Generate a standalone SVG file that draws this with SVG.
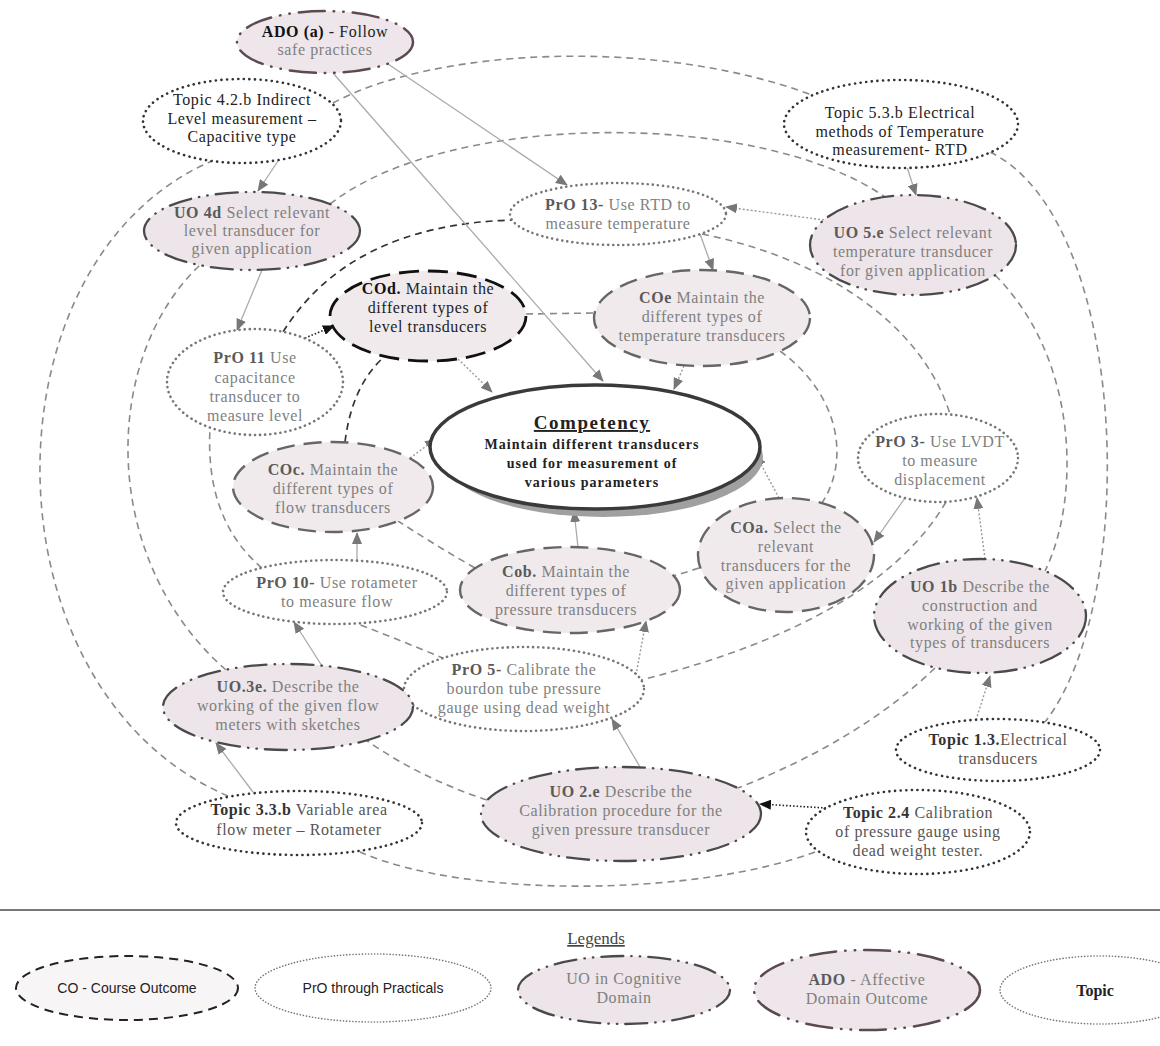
<svg xmlns="http://www.w3.org/2000/svg" width="1160" height="1046" viewBox="0 0 1160 1046">
<defs>
<style>
.t{font-family:"Liberation Serif","Times New Roman",serif;font-size:16px;fill:#808080;text-anchor:middle;letter-spacing:0.6px}
.b{font-weight:bold;fill:#5a5a5a}
.dk{fill:#222}
.dk .b{fill:#111}
.tp2{fill:#555}
.tp2 .b{fill:#333}
.co{fill:#f0eaed;stroke:#666;stroke-width:2.4;stroke-dasharray:18 9}
.cod{fill:#f0eaed;stroke:#111;stroke-width:2.8;stroke-dasharray:20 9}
.uo{fill:#ede5e9;stroke:#4a4a4a;stroke-width:2.3;stroke-dasharray:22 8 0.5 8 0.5 8;stroke-linecap:round}
.ado{fill:#eee6ea;stroke:#5b4a52;stroke-width:2.5;stroke-dasharray:26 9 0.5 9 0.5 9;stroke-linecap:round}
.pro{fill:#fff;stroke:#777;stroke-width:2.6;stroke-dasharray:0.1 5;stroke-linecap:round}
.tp{fill:#fff;stroke:#333;stroke-width:2.6;stroke-dasharray:0.1 5.5;stroke-linecap:round}
.ar{fill:none;stroke:#aaa;stroke-width:1.3}
.ard{fill:none;stroke:#999;stroke-width:1.4;stroke-dasharray:2 2}
.ark{fill:none;stroke:#222;stroke-width:1.6;stroke-dasharray:1.5 2}
.lp{fill:none;stroke:#8a8a8a;stroke-width:1.6;stroke-dasharray:7 5}
.lpk{fill:none;stroke:#333;stroke-width:1.7;stroke-dasharray:7 5}
.sans{font-family:"Liberation Sans",Arial,sans-serif;font-size:14px;fill:#222;text-anchor:middle}
.cp{font-family:"Liberation Serif","Times New Roman",serif;font-size:14px;font-weight:bold;letter-spacing:1px;fill:#222;text-anchor:middle}
.cpt{font-family:"Liberation Serif","Times New Roman",serif;font-size:19px;font-weight:bold;letter-spacing:1.5px;fill:#222;text-anchor:middle;text-decoration:underline}
</style>
<marker id="ah" viewBox="0 0 12 10" refX="11" refY="5" markerWidth="12" markerHeight="10" markerUnits="userSpaceOnUse" orient="auto"><path d="M0,0 L12,5 L0,10 z" fill="#777"/></marker>
<marker id="ahk" viewBox="0 0 12 10" refX="11" refY="5" markerWidth="12" markerHeight="10" markerUnits="userSpaceOnUse" orient="auto"><path d="M0,0 L12,5 L0,10 z" fill="#111"/></marker>
</defs>
<rect x="0" y="0" width="1160" height="1046" fill="#fff"/>

<g id="connectors">
<!-- Topic loop -->
<path class="lp" d="M333,103 C430,50 650,35 812,95"/>
<path class="lp" d="M990,152 C1130,220 1140,600 1045,722"/>
<path class="lp" d="M815,852 C700,895 470,900 360,852"/>
<path class="lp" d="M228,796 C-20,690 -20,260 212,161"/>
<!-- UO loop -->
<path class="lp" d="M330,204 C450,110 760,110 885,197"/>
<path class="lp" d="M995,275 C1080,360 1080,500 1045,571"/>
<path class="lp" d="M935,668 Q860,740 738,788"/>
<path class="lp" d="M487,800 Q420,778 366,740"/>
<path class="lp" d="M226,670 C100,560 100,360 200,265"/>
<!-- PrO loop -->
<path class="lpk" d="M283,332 Q350,225 512,220"/>
<path class="lp" d="M702,234 C820,258 920,320 950,414"/>
<path class="lp" d="M946,502 C900,580 800,640 641,680"/>
<path class="lp" d="M445,659 Q400,640 355,623"/>
<path class="lp" d="M262,568 Q205,520 210,428"/>
<!-- CO loop -->
<path class="lp" d="M526,314 L595,313"/>
<path class="lp" d="M780,351 C840,395 850,460 822,503"/>
<path class="lp" d="M699,568 L674,576"/>
<path class="lp" d="M475,568 Q435,545 398,521"/>
<path class="lpk" d="M345,442 Q352,385 385,356"/>
<!-- arrows -->
<path class="ar" d="M333,73 L603,381" marker-end="url(#ah)"/>
<path class="ar" d="M388,64 L567,185" marker-end="url(#ah)"/>
<path class="ar" d="M278,161 L258,191" marker-end="url(#ah)"/>
<path class="ar" d="M907,167 L916,195" marker-end="url(#ah)"/>
<path class="ard" d="M824,220 L726,207" marker-end="url(#ah)"/>
<path class="ar" d="M700,234 L713,270" marker-end="url(#ah)"/>
<path class="ar" d="M262,270 L237,330" marker-end="url(#ah)"/>
<path class="ark" d="M305,338 L334,326" marker-end="url(#ahk)"/>
<path class="ard" d="M458,359 L492,392" marker-end="url(#ah)"/>
<path class="ard" d="M684,366 L674,389" marker-end="url(#ah)"/>
<path class="ard" d="M410,458 L436,439" marker-end="url(#ah)"/>
<path class="ard" d="M779,498 L756,455" marker-end="url(#ah)"/>
<path class="ar" d="M578,547 L574,511" marker-end="url(#ah)"/>
<path class="ar" d="M905,498 L874,542" marker-end="url(#ah)"/>
<path class="ard" d="M985,559 L977,498" marker-end="url(#ah)"/>
<path class="ard" d="M976,720 L990,676" marker-end="url(#ah)"/>
<path class="ark" d="M826,808 L760,804" marker-end="url(#ahk)"/>
<path class="ar" d="M640,767 L612,719" marker-end="url(#ah)"/>
<path class="ard" d="M636,675 L646,621" marker-end="url(#ah)"/>
<path class="ar" d="M357,560 L357,533" marker-end="url(#ah)"/>
<path class="ar" d="M322,666 L294,622" marker-end="url(#ah)"/>
<path class="ar" d="M253,792 L216,743" marker-end="url(#ah)"/>
</g>

<g id="n-ado">
<ellipse class="ado" cx="325" cy="42" rx="88" ry="31"/>
<text class="t dk" x="325" y="37"><tspan class="b">ADO (a)</tspan> - Follow</text>
<text class="t" x="325" y="55" fill="#888">safe practices</text>
</g>
<g id="n-topic42b">
<ellipse class="tp" cx="242" cy="121" rx="99" ry="42"/>
<text class="t dk" x="242" y="105">Topic 4.2.b Indirect</text>
<text class="t dk" x="242" y="124">Level measurement –</text>
<text class="t dk" x="242" y="142">Capacitive type</text>
</g>
<g id="n-topic53b">
<ellipse class="tp" cx="901" cy="124" rx="117" ry="44"/>
<text class="t dk" x="900" y="118">Topic 5.3.b Electrical</text>
<text class="t dk" x="900" y="137">methods of Temperature</text>
<text class="t dk" x="900" y="155">measurement- RTD</text>
</g>
<g id="n-uo4d">
<ellipse class="uo" cx="252" cy="231" rx="108" ry="39"/>
<text class="t" x="252" y="218"><tspan class="b">UO 4d</tspan> Select relevant</text>
<text class="t" x="252" y="236">level transducer for</text>
<text class="t" x="252" y="254">given application</text>
</g>
<g id="n-pro13">
<ellipse class="pro" cx="618" cy="214" rx="108" ry="31"/>
<text class="t" x="618" y="210"><tspan class="b">PrO 13-</tspan> Use RTD to</text>
<text class="t" x="618" y="229">measure temperature</text>
</g>
<g id="n-uo5e">
<ellipse class="uo" cx="913" cy="245" rx="103" ry="50"/>
<text class="t" x="913" y="238"><tspan class="b">UO 5.e</tspan> Select relevant</text>
<text class="t" x="913" y="257">temperature transducer</text>
<text class="t" x="913" y="276">for given application</text>
</g>
<g id="n-cod">
<ellipse class="cod" cx="428" cy="316" rx="98" ry="45"/>
<text class="t dk" x="428" y="294"><tspan class="b">COd.</tspan> Maintain the</text>
<text class="t dk" x="428" y="313">different types of</text>
<text class="t dk" x="428" y="332">level transducers</text>
</g>
<g id="n-coe">
<ellipse class="co" cx="702" cy="318" rx="108" ry="48"/>
<text class="t" x="702" y="303"><tspan class="b">COe</tspan> Maintain the</text>
<text class="t" x="702" y="322">different types of</text>
<text class="t" x="702" y="341">temperature transducers</text>
</g>
<g id="n-pro11">
<ellipse class="pro" cx="255" cy="382" rx="88" ry="53"/>
<text class="t" x="255" y="363"><tspan class="b">PrO 11</tspan> Use</text>
<text class="t" x="255" y="383">capacitance</text>
<text class="t" x="255" y="402">transducer to</text>
<text class="t" x="255" y="421">measure level</text>
</g>
<g id="n-competency">
<ellipse cx="603" cy="457" rx="160" ry="60" fill="#a0a0a0"/>
<ellipse cx="595" cy="447" rx="165" ry="62" fill="#fff" stroke="#3a3a3a" stroke-width="3.5"/>
<text class="cpt" x="592" y="429">Competency</text>
<text class="cp" x="592" y="449">Maintain different transducers</text>
<text class="cp" x="592" y="468">used for measurement of</text>
<text class="cp" x="592" y="487">various parameters</text>
</g>
<g id="n-pro3">
<ellipse class="pro" cx="938" cy="458" rx="80" ry="44"/>
<text class="t" x="940" y="447"><tspan class="b">PrO 3-</tspan> Use LVDT</text>
<text class="t" x="940" y="466">to measure</text>
<text class="t" x="940" y="485">displacement</text>
</g>
<g id="n-coc">
<ellipse class="co" cx="333" cy="487" rx="100" ry="45"/>
<text class="t" x="333" y="475"><tspan class="b">COc.</tspan> Maintain the</text>
<text class="t" x="333" y="494">different types of</text>
<text class="t" x="333" y="513">flow transducers</text>
</g>
<g id="n-coa">
<ellipse class="co" cx="786" cy="555" rx="88" ry="57"/>
<text class="t" x="786" y="533"><tspan class="b">COa.</tspan> Select the</text>
<text class="t" x="786" y="552">relevant</text>
<text class="t" x="786" y="571">transducers for the</text>
<text class="t" x="786" y="589">given application</text>
</g>
<g id="n-pro10">
<ellipse class="pro" cx="335" cy="592" rx="112" ry="32"/>
<text class="t" x="337" y="588"><tspan class="b">PrO 10-</tspan> Use rotameter</text>
<text class="t" x="337" y="607">to measure flow</text>
</g>
<g id="n-cob">
<ellipse class="co" cx="570" cy="590" rx="110" ry="43"/>
<text class="t" x="566" y="577"><tspan class="b">Cob.</tspan> Maintain the</text>
<text class="t" x="566" y="596">different types of</text>
<text class="t" x="566" y="615">pressure transducers</text>
</g>
<g id="n-uo1b">
<ellipse class="uo" cx="980" cy="616" rx="106" ry="57"/>
<text class="t" x="980" y="592"><tspan class="b">UO 1b</tspan> Describe the</text>
<text class="t" x="980" y="611">construction and</text>
<text class="t" x="980" y="630">working of the given</text>
<text class="t" x="980" y="648">types of transducers</text>
</g>
<g id="n-pro5">
<ellipse class="pro" cx="524" cy="689" rx="120" ry="42"/>
<text class="t" x="524" y="675"><tspan class="b">PrO 5-</tspan> Calibrate the</text>
<text class="t" x="524" y="694">bourdon tube pressure</text>
<text class="t" x="524" y="713">gauge using dead weight</text>
</g>
<g id="n-uo3e">
<ellipse class="uo" cx="288" cy="707" rx="125" ry="43" fill="#e5dbe0"/>
<text class="t" x="288" y="692"><tspan class="b">UO.3e.</tspan> Describe the</text>
<text class="t" x="288" y="711">working of the given flow</text>
<text class="t" x="288" y="730">meters with sketches</text>
</g>
<g id="n-topic13">
<ellipse class="tp" cx="998" cy="750" rx="102" ry="31"/>
<text class="t tp2" x="998" y="745"><tspan class="b">Topic 1.3.</tspan>Electrical</text>
<text class="t tp2" x="998" y="764">transducers</text>
</g>
<g id="n-uo2e">
<ellipse class="uo" cx="621" cy="814" rx="140" ry="47"/>
<text class="t" x="621" y="797"><tspan class="b">UO 2.e</tspan> Describe the</text>
<text class="t" x="621" y="816">Calibration procedure for the</text>
<text class="t" x="621" y="835">given pressure transducer</text>
</g>
<g id="n-topic33b">
<ellipse class="tp" cx="299" cy="823" rx="123" ry="32"/>
<text class="t tp2" x="299" y="815"><tspan class="b">Topic 3.3.b</tspan> Variable area</text>
<text class="t tp2" x="299" y="835">flow meter – Rotameter</text>
</g>
<g id="n-topic24">
<ellipse class="tp" cx="918" cy="832" rx="112" ry="42"/>
<text class="t tp2" x="918" y="818"><tspan class="b">Topic 2.4</tspan> Calibration</text>
<text class="t tp2" x="918" y="837">of pressure gauge using</text>
<text class="t tp2" x="918" y="856">dead weight tester.</text>
</g>

<g id="legend">
<line x1="0" y1="910" x2="1160" y2="910" stroke="#777" stroke-width="2"/>
<text x="596" y="944" text-anchor="middle" font-family="Liberation Serif, Times New Roman, serif" font-size="17" fill="#444" text-decoration="underline">Legends</text>
<g id="lg-co">
<ellipse cx="127" cy="988" rx="111" ry="32" fill="#f8f5f6" stroke="#222" stroke-width="2" stroke-dasharray="9 6"/>
<text class="sans" x="127" y="993">CO - Course Outcome</text>
</g>
<g id="lg-pro">
<ellipse cx="373" cy="988" rx="118" ry="34" fill="#fff" stroke="#777" stroke-width="1.6" stroke-dasharray="0.1 3" stroke-linecap="round"/>
<text class="sans" x="373" y="993">PrO through  Practicals</text>
</g>
<g id="lg-uo">
<ellipse class="uo" cx="624" cy="990" rx="106" ry="34"/>
<text class="t" x="624" y="984">UO in Cognitive</text>
<text class="t" x="624" y="1003">Domain</text>
</g>
<g id="lg-ado">
<ellipse class="ado" cx="867" cy="990" rx="113" ry="40"/>
<text class="t" x="867" y="985"><tspan class="b">ADO</tspan> - Affective</text>
<text class="t" x="867" y="1004">Domain Outcome</text>
</g>
<g id="lg-topic">
<ellipse cx="1100" cy="990" rx="100" ry="34" fill="#fff" stroke="#777" stroke-width="1.6" stroke-dasharray="0.1 3" stroke-linecap="round"/>
<text x="1095" y="996" text-anchor="middle" font-family="Liberation Serif, Times New Roman, serif" font-size="16" font-weight="bold" fill="#222">Topic</text>
</g>
</g>
</svg>
